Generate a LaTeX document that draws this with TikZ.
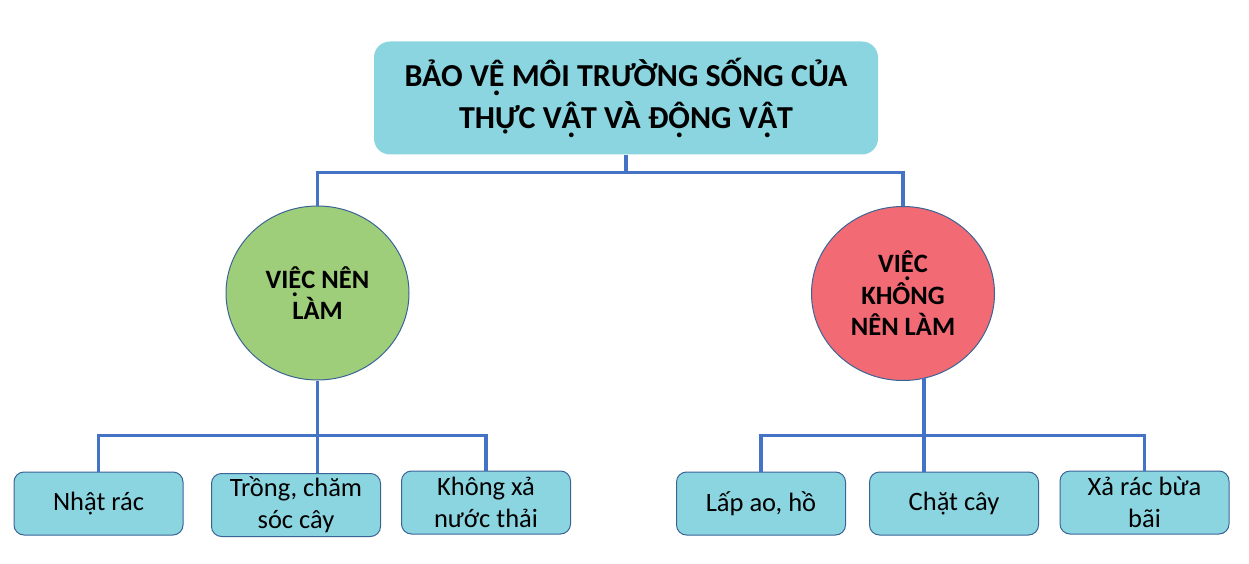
\documentclass[tikz,border=0pt]{standalone}
\usepackage{fontspec}
\setmainfont{Carlito}
\usetikzlibrary{shapes.geometric}
\definecolor{boxfill}{HTML}{8AD5E0}
\definecolor{goodfill}{HTML}{9ECE7A}
\definecolor{badfill}{HTML}{F16A74}
\definecolor{linkblue}{HTML}{4472C4}
\definecolor{edgeblue}{HTML}{3B6496}
\newcommand\dotb[1]{\ooalign{#1\cr\hidewidth\raisebox{-0.3em}{.}\hidewidth\cr}}
\begin{document}
\begin{tikzpicture}[x = 1pt, y = -1pt,
    headbox/.style = {fill = boxfill, rounded corners = 16pt, minimum width = 504pt, minimum height = 113pt, inner sep = 0pt, align = center, font = \fontsize{32}{42}\selectfont\bfseries},
    topic/.style = {ellipse, draw = edgeblue, line width = 1pt, minimum width = 183pt, minimum height = 174pt, inner sep = 0pt, align = center, font = \fontsize{26.5}{31.5}\selectfont\bfseries},
    itembox/.style = {draw = edgeblue, line width = 1pt, fill = boxfill, rounded corners = 10pt, minimum width = 169pt, minimum height = 63pt, inner sep = 0pt, align = center, font = \fontsize{26.5}{32}\selectfont},
    link/.style = {linkblue, line width = 3.2pt}]
    \useasboundingbox (0, 0) rectangle (1249, 564);
    \node [headbox] (title) at (626, 98) {BẢO V\dotb{Ê} MÔI TRƯỜNG SỐNG CỦA\\THỰC V\dotb{Â}T VÀ Đ\dotb{Ô}NG V\dotb{Â}T};
    \node [topic, fill = goodfill] (good) at (317.5, 293) {VI\dotb{Ê}C NÊN\\LÀM};
    \node [topic, fill = badfill] (bad) at (903, 293.5) {VI\dotb{Ê}C\\KHÔNG\\NÊN LÀM};
    \node [itembox] (b1) at (98.5, 503.5) {Nhật rác};
    \node [itembox] (b2) at (296, 505) {Trồng, chăm\\sóc cây};
    \node [itembox] (b3) at (486, 502.5) {Không xả\\nước thải};
    \node [itembox] (b4) at (761, 503.5) {Lấp ao, hồ};
    \node [itembox] (b5) at (954, 503.5) {Chặt cây};
    \node [itembox] (b6) at (1144.5, 502.5) {Xả rác bừa\\bãi};
    \coordinate (bus1) at (626, 172.5);
    \coordinate (bus2) at (317.5, 435.5);
    \coordinate (bus3) at (924, 435.5);
    \draw [link] (title.south) -- (bus1);
    \draw [link] (good.north) |- (bus1) -| (bad.north);
    \draw [link] (good.south) -- (good.south |- b2.north);
    \draw [link] (b1.north) |- (bus2) -| (b3.north);
    \draw [link] (bus3 |- bad.south) ++(0, -3) -- (bus3 |- b5.north);
    \draw [link] (b4.north) |- (bus3) -| (b6.north);
\end{tikzpicture}
\end{document}
